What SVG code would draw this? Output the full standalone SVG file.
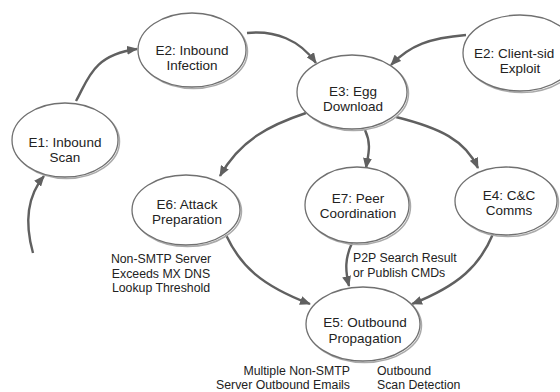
<svg xmlns="http://www.w3.org/2000/svg" width="560" height="392" viewBox="0 0 560 392">
<style>
.bg{fill:#ffffff}
.node ellipse.sh{fill:none;stroke:#aaaaaa;stroke-width:1.5}
.node ellipse.main{fill:#ffffff;stroke:#707070;stroke-width:1.3}
.node text{font-family:"Liberation Sans",Arial,sans-serif;font-size:13.5px;fill:#222222;text-anchor:middle}
.lbl{font-family:"Liberation Sans",Arial,sans-serif;font-size:12.3px;fill:#222222}
.edge{fill:none;stroke:#606060;stroke-width:2.4;marker-end:url(#arr)}
</style>
<defs>
<marker id="arr" markerUnits="userSpaceOnUse" markerWidth="11" markerHeight="9" refX="10" refY="4.5" orient="auto">
<path d="M0,0 L11,4.5 L0,9 z" fill="#606060"/>
</marker>
</defs>
<rect class="bg" x="0" y="0" width="560" height="392"/>
<g id="connectors">
<path class="edge" d="M33,253 C26,228 24,200 44,176"/>
<path class="edge" d="M76,101 C88,80 92,55 137,49"/>
<path class="edge" d="M247,33 C275,30 300,40 316,63"/>
<path class="edge" d="M466,35 C430,38 410,45 391,65"/>
<path class="edge" d="M306,113 C270,125 240,140 220,176"/>
<path class="edge" d="M365,130 C372,145 368,155 366,168"/>
<path class="edge" d="M396,117 C440,128 465,140 478,168"/>
<path class="edge" d="M226,235 C240,265 260,285 310,304"/>
<path class="edge" d="M352,243 C345,258 345,270 349,286"/>
<path class="edge" d="M493,234 C480,265 460,285 412,304"/>
</g>
<g id="E1" class="node">
<ellipse class="sh" cx="66.5" cy="141.5" rx="53" ry="37"/>
<ellipse class="main" cx="65" cy="140" rx="53" ry="37"/>
<text x="65" y="146.5">E1: Inbound</text>
<text x="65" y="162">Scan</text>
</g>
<g id="E2_inbound" class="node">
<ellipse class="sh" cx="193.5" cy="51.5" rx="54" ry="37"/>
<ellipse class="main" cx="192" cy="50" rx="54" ry="37"/>
<text x="192" y="54.5">E2: Inbound</text>
<text x="192" y="70">Infection</text>
</g>
<g id="E3" class="node">
<ellipse class="sh" cx="353.5" cy="93.5" rx="55" ry="37"/>
<ellipse class="main" cx="352" cy="92" rx="55" ry="37"/>
<text x="353" y="95.5">E3: Egg</text>
<text x="353" y="111">Download</text>
</g>
<g id="E2_client" class="node">
<ellipse class="sh" cx="521.5" cy="54.5" rx="57" ry="38"/>
<ellipse class="main" cx="520" cy="53" rx="57" ry="38"/>
<text x="474" y="57.5" style="text-anchor:start">E2: Client-sid</text>
<text x="520" y="73">Exploit</text>
</g>
<g id="E6" class="node">
<ellipse class="sh" cx="187.5" cy="211.5" rx="54" ry="35"/>
<ellipse class="main" cx="186" cy="210" rx="54" ry="35"/>
<text x="187" y="208.5">E6: Attack</text>
<text x="187" y="224">Preparation</text>
</g>
<g id="E7" class="node">
<ellipse class="sh" cx="358.5" cy="206.5" rx="52" ry="38"/>
<ellipse class="main" cx="357" cy="205" rx="52" ry="38"/>
<text x="358" y="202.5">E7: Peer</text>
<text x="358" y="218">Coordination</text>
</g>
<g id="E4" class="node">
<ellipse class="sh" cx="507.5" cy="202.5" rx="51" ry="34"/>
<ellipse class="main" cx="506" cy="201" rx="51" ry="34"/>
<text x="509" y="199.5">E4: C&amp;C</text>
<text x="509" y="215">Comms</text>
</g>
<g id="E5" class="node">
<ellipse class="sh" cx="364.5" cy="325.5" rx="57" ry="37"/>
<ellipse class="main" cx="363" cy="324" rx="57" ry="37"/>
<text x="365" y="327">E5: Outbound</text>
<text x="365" y="343">Propagation</text>
</g>
<g id="labels">
<text class="lbl" x="161" y="263" text-anchor="middle">Non-SMTP Server</text>
<text class="lbl" x="161" y="277.5" text-anchor="middle">Exceeds MX DNS</text>
<text class="lbl" x="161" y="292" text-anchor="middle">Lookup Threshold</text>
<text class="lbl" x="353" y="262">P2P Search Result</text>
<text class="lbl" x="353" y="276.5">or Publish CMDs</text>
<text class="lbl" x="350" y="375" text-anchor="end">Multiple Non-SMTP</text>
<text class="lbl" x="350" y="389" text-anchor="end">Server Outbound Emails</text>
<text class="lbl" x="377" y="375">Outbound</text>
<text class="lbl" x="377" y="389">Scan Detection</text>
</g>
</svg>
